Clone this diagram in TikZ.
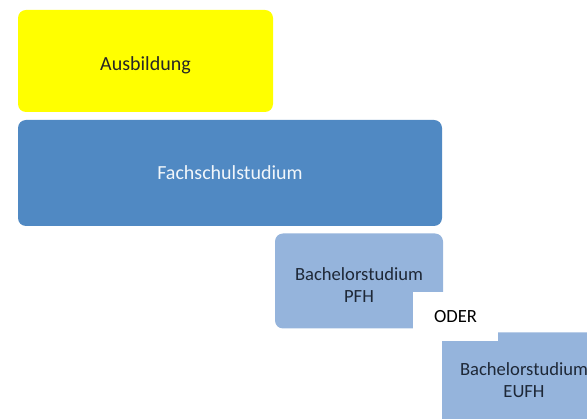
\documentclass[tikz,border=0pt]{standalone}
\usepackage{fontspec}
\setmainfont{Carlito}
\definecolor{ausgelb}{RGB}{255,255,0}
\definecolor{fachblau}{RGB}{80,137,195}
\definecolor{bachblau}{RGB}{149,180,220}
\definecolor{dunkeltext}{RGB}{30,40,55}
\begin{document}
\begin{tikzpicture}[x=1pt,y=-1pt,
  boxstyle/.style={rounded corners=8pt, inner sep=0pt, align=center},
  bigtext/.style={font=\fontsize{20}{24}\selectfont},
  smalltext/.style={font=\fontsize{18.6}{22}\selectfont, align=center, text=dunkeltext},
  lightbox/.style={boxstyle, fill=bachblau, text=dunkeltext, minimum width=168pt, minimum height=95pt,
    font=\fontsize{18.6}{22}\selectfont}]
\useasboundingbox (0,0) rectangle (587,419);
\clip (0,0) rectangle (587,419);
\node[boxstyle, fill=ausgelb, minimum width=255pt, minimum height=102pt,
  label={[bigtext, text=black!85, yshift=-4pt]center:Ausbildung}] (ausb) at (145.5,61) {};
\node[boxstyle, fill=fachblau, text=white!92!fachblau, minimum width=424pt, minimum height=106pt,
  bigtext] (fach) at (230,173) {Fachschulstudium};
\node[lightbox, label={[smalltext, yshift=-4pt]center:Bachelorstudium\\PFH}] (pfh) at (359,281) {};
\node[lightbox, minimum width=164pt] (eufh) at (524,380) {Bachelorstudium\\EUFH};
\node[fill=white, inner sep=0pt, minimum width=85pt, minimum height=49pt,
  font=\fontsize{18.6}{22}\selectfont] (oder) at (455.5,317) {ODER};
\end{tikzpicture}
\end{document}
